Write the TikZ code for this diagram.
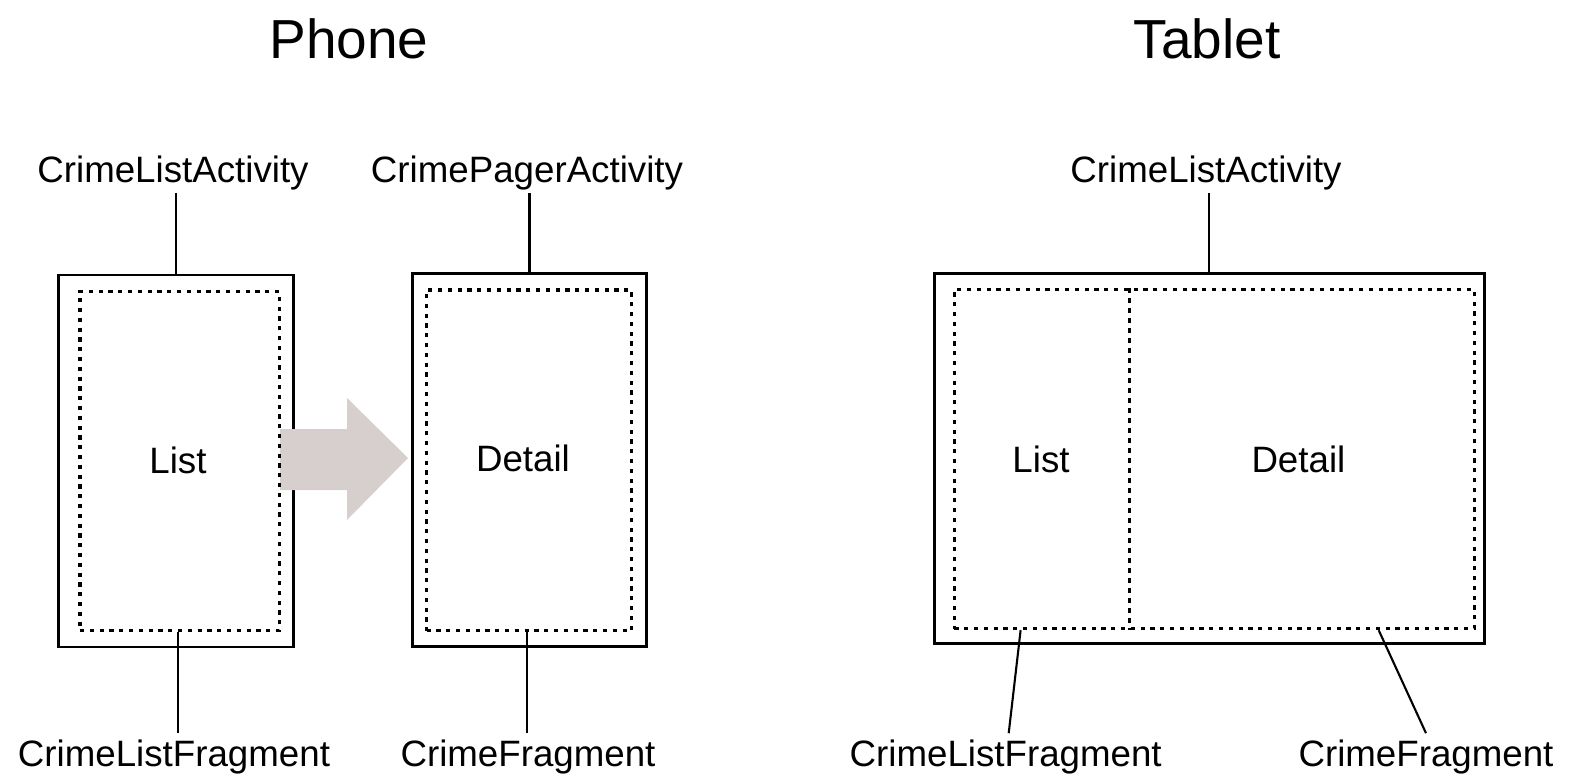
\documentclass[tikz,border=0pt]{standalone}
\usepackage{fontspec}
\setmainfont{Liberation Sans}
\usetikzlibrary{calc}
\definecolor{arrowgray}{RGB}{214,207,205}
\begin{document}
\begin{tikzpicture}[x=1pt,y=-1pt,
  lbl/.style={inner sep=0pt, anchor=base, font=\fontsize{36.7}{40}\selectfont},
  ttl/.style={inner sep=0pt, anchor=base, font=\fontsize{55}{60}\selectfont},
  outerbox/.style={draw=black, line width=2.8pt, inner sep=0pt},
  dotbox/.style={draw=black, line width=3.2pt, dash pattern=on 4.2pt off 5.6pt, inner sep=0pt},
  dotline/.style={draw=black, line width=3pt, dash pattern=on 5pt off 5pt},
  conn/.style={draw=black, line width=2.1pt}]
\useasboundingbox (0,0) rectangle (1577,776);

% titles
\node[ttl] (tphone) at (349,58.5) {Phone};
\node[ttl] (ttablet) at (1207,58.5) {Tablet};

% outer boxes
\node[outerbox, minimum width=235.4pt, minimum height=372pt] (lbox) at (176,461) {};
\node[outerbox, minimum width=234.4pt, minimum height=373pt] (rbox) at (529.5,460.2) {};
\node[outerbox, minimum width=550pt, minimum height=370pt] (tbox) at (1209.4,458.6) {};

% arrow
\fill[arrowgray] (280,429) -- (347,429) -- (347,398) -- (408,458) -- (347,520) -- (347,490) -- (280,490) -- cycle;

% dotted inner boxes
\node[dotbox, minimum width=199.5pt, minimum height=339.2pt] (lin) at (179.8,461.1) {};
\node[dotbox, minimum width=205pt, minimum height=340.6pt] (rin) at (529,460.3) {};
\node[dotbox, minimum width=520pt, minimum height=339pt] (tin) at (1214.4,459.1) {};
\draw[dotline] ($(tin.north west)!0.3385!(tin.north east)$) -- ($(tin.south west)!0.3385!(tin.south east)$);

% inner labels
\node[lbl] (llist) at (178,473) {List};
\node[lbl] (rdetail) at (523,471) {Detail};
\node[lbl] (tlist) at (1041,472.5) {List};
\node[lbl] (tdetail) at (1298.4,472.5) {Detail};

% top labels
\node[lbl] (a1) at (173,182) {CrimeListActivity};
\node[lbl] (a2) at (527,182) {CrimePagerActivity};
\node[lbl] (a3) at (1206,182) {CrimeListActivity};

% bottom labels
\node[lbl] (f1) at (174,766) {CrimeListFragment};
\node[lbl] (f2) at (528,766) {CrimeFragment};
\node[lbl] (f3) at (1005.7,766) {CrimeListFragment};
\node[lbl] (f4) at (1426,766) {CrimeFragment};

% connectors top
\draw[conn] ([yshift=-3pt]a1.south -| lbox.north) -- (lbox.north);
\draw[conn] ([yshift=-3pt]a2.south -| rbox.north) -- (rbox.north);
\draw[conn] ([yshift=-3pt]a3.south -| tbox.north) -- (tbox.north);

% connectors bottom
\draw[conn] ([xshift=-2pt]lin.south) -- ([xshift=-2pt,yshift=6pt]lin.south |- f1.north);
\draw[conn] ([xshift=-2pt]rin.south) -- ([xshift=-2pt,yshift=6pt]rin.south |- f2.north);
\coordinate (c3) at ($(tin.south west)!0.1296!(tin.south east)$);
\coordinate (c4) at ($(tin.south west)!0.814!(tin.south east)$);
\draw[conn] (c3) -- ([xshift=3pt,yshift=6pt]f3.north);
\draw[conn] (c4) -- ([yshift=6pt]f4.north);
\end{tikzpicture}
\end{document}
